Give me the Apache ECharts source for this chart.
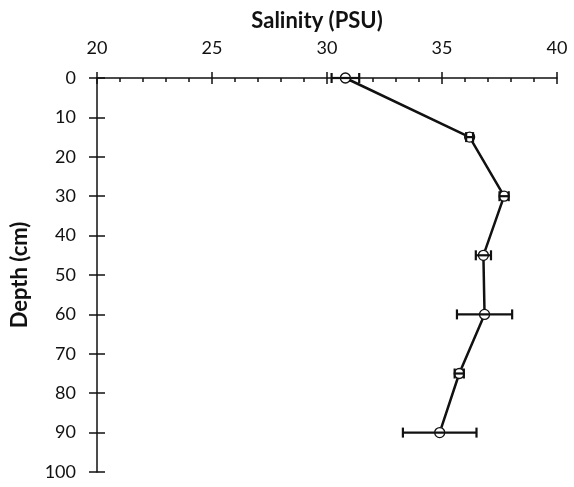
<!DOCTYPE html>
<html>
<head>
<meta charset="utf-8">
<script src="https://cdn.jsdelivr.net/npm/echarts@6/dist/echarts.min.js"></script>
<style>
  html, body { margin: 0; padding: 0; background: #fff; }
  #chart { width: 574px; height: 487px; }
</style>
</head>
<body>
<div id="chart"></div>
<script>
// Salinity profile: mean salinity at each sampling depth, with error bars
const depths = [0, 15, 30, 45, 60, 75, 90];                    // cm
const salinity = [30.8, 36.2, 37.7, 36.8, 36.85, 35.75, 34.9]; // PSU
const salinityErr = [0.6, 0.15, 0.2, 0.33, 1.2, 0.2, 1.6];     // PSU

const xTicks = { min: 20, max: 40, interval: 5 };
const yTicks = { min: 0, max: 100, interval: 10 };

const FONT = 'Lato';
const INK = '#111';

const chart = echarts.init(document.getElementById('chart'));

const lineData = depths.map((d, i) => [salinity[i], d]);
const errData = depths.map((d, i) => [salinity[i] - salinityErr[i], salinity[i] + salinityErr[i], d]);

const axisLine = { show: true, onZero: false, lineStyle: { color: INK, width: 1.5 } };
const tickStyle = { color: INK, width: 1.5 };

chart.setOption({
  animation: false,
  backgroundColor: '#fff',
  grid: { left: 97, right: 17, top: 78, bottom: 15, containLabel: false },
  xAxis: [
    {
      type: 'value', position: 'top',
      min: xTicks.min, max: xTicks.max, interval: xTicks.interval,
      name: 'Salinity (PSU)', nameLocation: 'middle', nameGap: 46,
      nameTextStyle: { fontFamily: FONT, fontWeight: 'bold', fontSize: 22, color: INK, padding: [0, 20, 0, 0] },
      axisLine: axisLine,
      axisTick: { show: true, inside: false, length: 6, lineStyle: tickStyle },
      minorTick: { show: false },
      axisLabel: { fontFamily: FONT, fontSize: 18, color: INK, margin: 21 },
      splitLine: { show: false }
    },
    {
      // inner tick marks, so the major ticks cross the axis line
      type: 'value', position: 'top',
      min: xTicks.min, max: xTicks.max, interval: xTicks.interval,
      axisLine: { show: false },
      axisTick: { show: true, inside: true, length: 6, lineStyle: tickStyle },
      minorTick: { show: true, splitNumber: 5, length: 4, lineStyle: tickStyle },
      axisLabel: { show: false },
      splitLine: { show: false }
    }
  ],
  yAxis: [
    {
      type: 'value', inverse: true,
      min: yTicks.min, max: yTicks.max, interval: yTicks.interval,
      name: 'Depth (cm)', nameLocation: 'middle', nameGap: 66,
      nameTextStyle: { fontFamily: FONT, fontWeight: 'bold', fontSize: 22, color: INK },
      axisLine: axisLine,
      axisTick: { show: true, inside: false, length: 8, lineStyle: tickStyle },
      axisLabel: { fontFamily: FONT, fontSize: 18, color: INK, margin: 21 },
      splitLine: { show: false }
    },
    {
      type: 'value', inverse: true, position: 'left',
      min: yTicks.min, max: yTicks.max, interval: yTicks.interval,
      axisLine: { show: false },
      axisTick: { show: true, inside: true, length: 8, lineStyle: tickStyle },
      axisLabel: { show: false },
      splitLine: { show: false }
    }
  ],
  series: [
    {
      type: 'line',
      xAxisIndex: 0, yAxisIndex: 0,
      data: lineData,
      z: 3,
      showAllSymbol: true,
      symbol: 'circle',
      symbolSize: 10,
      lineStyle: { color: INK, width: 2.5 },
      itemStyle: { color: '#fff', borderColor: INK, borderWidth: 1.3 }
    },
    {
      // error bars drawn over the markers
      type: 'custom',
      xAxisIndex: 0, yAxisIndex: 0,
      data: errData,
      z: 4,
      renderItem: function (params, api) {
        const lo = api.coord([api.value(0), api.value(2)]);
        const hi = api.coord([api.value(1), api.value(2)]);
        const cap = 5;
        const style = { stroke: INK, lineWidth: 2.2 };
        return {
          type: 'group',
          children: [
            { type: 'line', shape: { x1: lo[0], y1: lo[1], x2: hi[0], y2: hi[1] }, style: style },
            { type: 'line', shape: { x1: lo[0], y1: lo[1] - cap, x2: lo[0], y2: lo[1] + cap }, style: style },
            { type: 'line', shape: { x1: hi[0], y1: hi[1] - cap, x2: hi[0], y2: hi[1] + cap }, style: style }
          ]
        };
      }
    }
  ]
});
</script>
</body>
</html>
